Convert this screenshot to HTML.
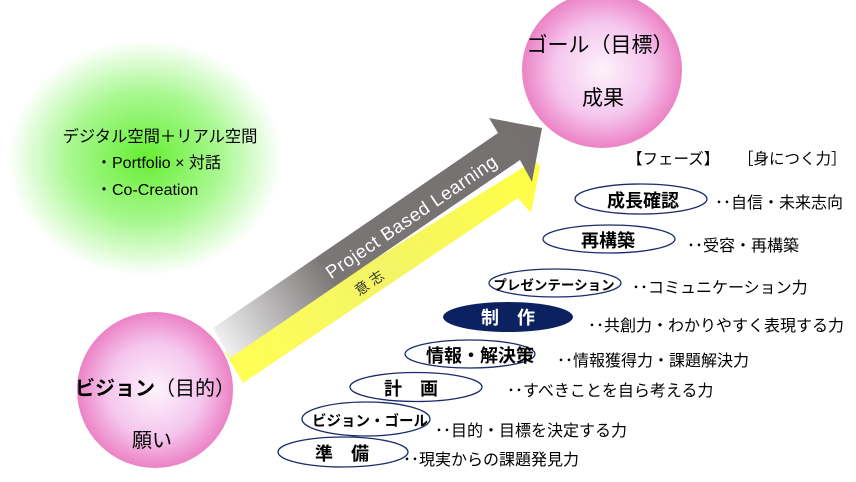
<!DOCTYPE html>
<html><head><meta charset="utf-8"><style>
html,body{margin:0;padding:0;background:#fff;}
svg{display:block;}
text{font-family:"Liberation Sans","Noto Sans CJK JP",sans-serif;}
</style></head><body>
<svg width="856" height="482" viewBox="0 0 856 482" xmlns="http://www.w3.org/2000/svg">
<defs>
<radialGradient id="g" cx="50%" cy="50%" r="50%">
<stop offset="0" stop-color="#66ee33"/><stop offset="0.55" stop-color="#a8f890"/><stop offset="1" stop-color="#ffffff"/>
</radialGradient>
<radialGradient id="p" cx="50%" cy="50%" r="50%">
<stop offset="0" stop-color="#fdf3fb"/><stop offset="0.6" stop-color="#f5c6ee"/><stop offset="1" stop-color="#ec82c4"/>
</radialGradient>
<linearGradient id="ga" x1="215" y1="345" x2="540" y2="130" gradientUnits="userSpaceOnUse">
<stop offset="0" stop-color="#f6f6f6"/><stop offset="0.35" stop-color="#7a7676"/><stop offset="1" stop-color="#757070"/>
</linearGradient>
<linearGradient id="ya" x1="230" y1="370" x2="540" y2="170" gradientUnits="userSpaceOnUse">
<stop offset="0" stop-color="#ffff55"/><stop offset="0.5" stop-color="#f4f466"/><stop offset="1" stop-color="#ffff44"/>
</linearGradient>
</defs>
<ellipse cx="145" cy="158" rx="137" ry="118" fill="url(#g)"/>
<text x="160" y="142" font-size="16.3" text-anchor="middle">デジタル空間＋リアル空間</text>
<text x="96" y="168" font-size="16">・Portfolio × 対話</text>
<text x="96" y="195" font-size="16">・Co-Creation</text>

<polygon points="225,352 535,160 540,167 531,213 518,198 243,383" fill="url(#ya)"/>
<polygon points="213,328 498,133 489,118 542,128 532,182 520,160 230,358" fill="url(#ga)"/>
<text transform="translate(415,222) rotate(-34.4)" font-size="18.5" fill="#fff" text-anchor="middle" letter-spacing="0.5">Project  Based Learning</text>
<text transform="translate(372,287) rotate(-34.4)" font-size="14" fill="#333" text-anchor="middle">意 志</text>

<ellipse cx="602" cy="70" rx="80" ry="78" fill="url(#p)"/>
<text x="600" y="52" font-size="21" text-anchor="middle">ゴール（目標）</text>
<text x="603" y="105" font-size="21" text-anchor="middle">成果</text>
<ellipse cx="155" cy="390" rx="78" ry="78" fill="url(#p)"/>
<text x="155" y="395" font-size="20" text-anchor="middle" font-weight="bold">ビジョン<tspan font-weight="normal">（目的）</tspan></text>
<text x="152" y="447" font-size="20" text-anchor="middle">願い</text>

<text x="627" y="164" font-size="15.5">【フェーズ】</text>
<text x="738" y="164" font-size="15.5">［身につく力］</text>

<g fill="none" stroke="#1a2a6a" stroke-width="1.3">
<ellipse cx="641" cy="199" rx="66" ry="15"/>
<ellipse cx="609" cy="239" rx="66" ry="14"/>
<ellipse cx="555" cy="283" rx="66" ry="14"/>
<ellipse cx="470" cy="354" rx="65" ry="14"/>
<ellipse cx="416" cy="387" rx="66" ry="14.5"/>
<ellipse cx="366" cy="419" rx="64" ry="17"/>
<ellipse cx="343" cy="452" rx="65" ry="15"/>
</g>
<ellipse cx="508" cy="317" rx="65" ry="15" fill="#0c2260"/>

<g font-weight="bold" text-anchor="middle">
<text x="643" y="207" font-size="18">成長確認</text>
<text x="608" y="247" font-size="18">再構築</text>
<text x="554" y="290" font-size="13.5">プレゼンテーション</text>
<text x="508" y="324" font-size="18" fill="#fff">制　作</text>
<text x="480" y="362" font-size="18">情報・解決策</text>
<text x="411" y="395" font-size="18">計　画</text>
<text x="370" y="426" font-size="14.5">ビジョン・ゴール</text>
<text x="342" y="460" font-size="18">準　備</text>
</g>
<g font-size="16">
<text x="715" y="208">･･自信・未来志向</text>
<text x="687" y="251">･･受容・再構築</text>
<text x="632" y="293">･･コミュニケーション力</text>
<text x="588" y="331">･･共創力・わかりやすく表現する力</text>
<text x="557" y="366">･･情報獲得力・課題解決力</text>
<text x="507" y="396">･･すべきことを自ら考える力</text>
<text x="435" y="436">･･目的・目標を決定する力</text>
<text x="403" y="465">･･現実からの課題発見力</text>
</g>
</svg>
</body></html>
